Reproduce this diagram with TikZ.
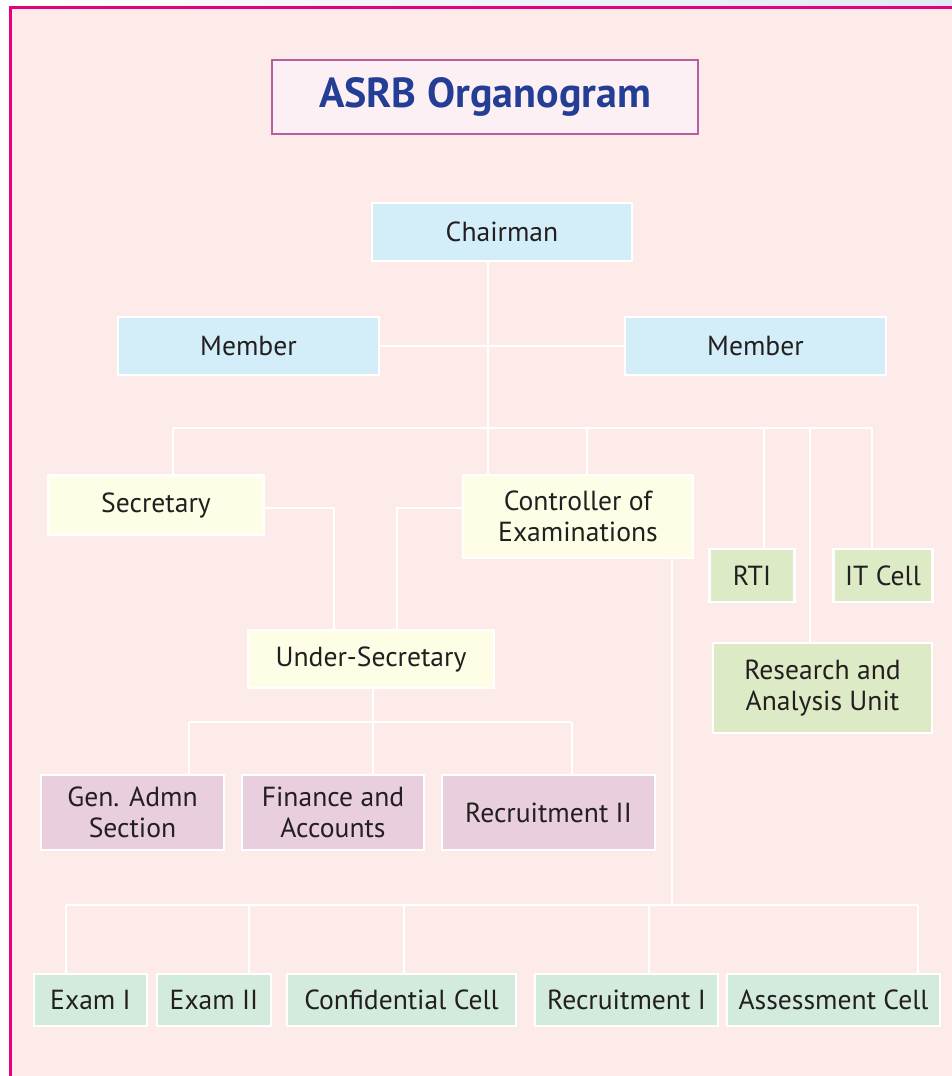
\documentclass[tikz,border=0pt]{standalone}
\usepackage{fontspec}
\setmainfont{PT Sans}
\usepackage{xcolor}
\usepackage{tikz}
\usetikzlibrary{positioning,calc}

\definecolor{pagepink}{RGB}{253,235,233}
\definecolor{framemag}{RGB}{230,0,126}
\definecolor{titlefill}{RGB}{253,240,245}
\definecolor{titleline}{RGB}{184,96,159}
\definecolor{titleblue}{RGB}{35,62,148}
\definecolor{boxblue}{RGB}{211,238,249}
\definecolor{boxyellow}{RGB}{254,253,230}
\definecolor{boxgreen}{RGB}{220,234,197}
\definecolor{boxmauve}{RGB}{233,207,221}
\definecolor{boxmint}{RGB}{211,235,220}
\definecolor{inkgray}{RGB}{35,31,32}
\definecolor{skystrip}{RGB}{226,232,245}

\begin{document}
\begin{tikzpicture}[x=1pt,y=-1pt,
    unit/.style={draw=white, line width=2.5pt, inner sep=0pt, align=center,
      text=inkgray, font=\fontsize{27.6}{31}\selectfont},
    top/.style={unit, fill=boxblue},
    office/.style={unit, fill=boxyellow},
    cell/.style={unit, fill=boxgreen},
    section/.style={unit, fill=boxmauve},
    wing/.style={unit, fill=boxmint},
    link/.style={draw=white, line width=2.5pt}]
  \useasboundingbox (0,0) rectangle (952,1076);
  % page and frame
  \fill[white] (0,0) rectangle (952,1076);
  \shade[left color=white, right color=skystrip] (0,0) rectangle (952,7);
  \draw[framemag, line width=3pt, fill=pagepink] (10.5,7.5) rectangle (970,1100);

  \node[draw=titleline, line width=1.5pt, fill=titlefill, minimum width=426pt, minimum height=74pt,
    text=titleblue, font=\bfseries\fontsize{42}{46}\selectfont] (title) at (485,97) {ASRB Organogram};

  % boxes
  \node[top, minimum width=260pt, minimum height=58pt] (chair) at (502,232) {Chairman};
  \node[top, minimum width=261pt, minimum height=58pt] (mema) at (248.5,346) {Member};
  \node[top, minimum width=261pt, minimum height=58pt] (memb) at (755.5,346) {Member};
  \node[office, minimum width=216pt, minimum height=59pt] (sec) at (156,505) {Secretary};
  \node[office, minimum width=230pt, minimum height=83pt] (coe) at (578,516.5) {Controller of\\Examinations};
  \node[office, minimum width=246pt, minimum height=58pt] (usec) at (371,659) {Under-Secretary};
  \node[cell, minimum width=85pt, minimum height=53pt] (rti) at (752,575.5) {RTI};
  \node[cell, minimum width=99pt, minimum height=53pt] (itc) at (883,575.5) {IT Cell};
  \node[cell, minimum width=219pt, minimum height=90pt] (rau) at (822.5,688) {Research and\\Analysis Unit};
  \node[section, minimum width=183pt, minimum height=75pt] (gen) at (132.5,812.5) {Gen. Admn\\Section};
  \node[section, minimum width=182pt, minimum height=75pt] (fin) at (333,812.5) {Finance and\\Accounts};
  \node[section, minimum width=213pt, minimum height=75pt] (rec2) at (548.5,812.5) {Recruitment II};
  \node[wing, minimum width=113pt, minimum height=52pt] (ex1) at (90.5,1000) {Exam I};
  \node[wing, minimum width=114pt, minimum height=52pt] (ex2) at (214,1000) {Exam II};
  \node[wing, minimum width=229pt, minimum height=52pt] (conf) at (401.5,1000) {Confidential Cell};
  \node[wing, minimum width=183pt, minimum height=52pt] (rec1) at (626.5,1000) {Recruitment I};
  \node[wing, minimum width=213pt, minimum height=52pt] (asc) at (833.5,1000) {Assessment Cell};

  % connectors
  \coordinate (busa) at (173,428);
  \coordinate (busb) at (373,722);
  \coordinate (busc) at (66,905);
  \path[link] (chair.south -| 488,0) -- (coe.north -| 488,0);
  \path[link] (mema.east) -- (memb.west);
  \path[link] (busa) -- (872,428);
  \foreach \x/\n in {173/sec,587/coe,764/rti,810/rau,872/itc}
    \path[link] (\x,428) -- (\n.north -| \x,0);
  \path[link] ([yshift=-3pt]sec.east) -| (usec.north -| 334,0);
  \path[link] (coe.west |- 0,508) -| (usec.north -| 397,0);
  \path[link] (usec.south -| busb) -- (busb);
  \path[link] (189,722) -- (572,722);
  \foreach \x/\n in {189/gen,373/fin,572/rec2}
    \path[link] (\x,722) -- (\n.north -| \x,0);
  \path[link] (coe.south -| 672,0) -- (672,905);
  \path[link] (busc) -- (918,905);
  \foreach \x/\n in {66/ex1,249/ex2,404/conf,649/rec1,918/asc}
    \path[link] (\x,905) -- (\n.north -| \x,0);
\end{tikzpicture}
\end{document}
